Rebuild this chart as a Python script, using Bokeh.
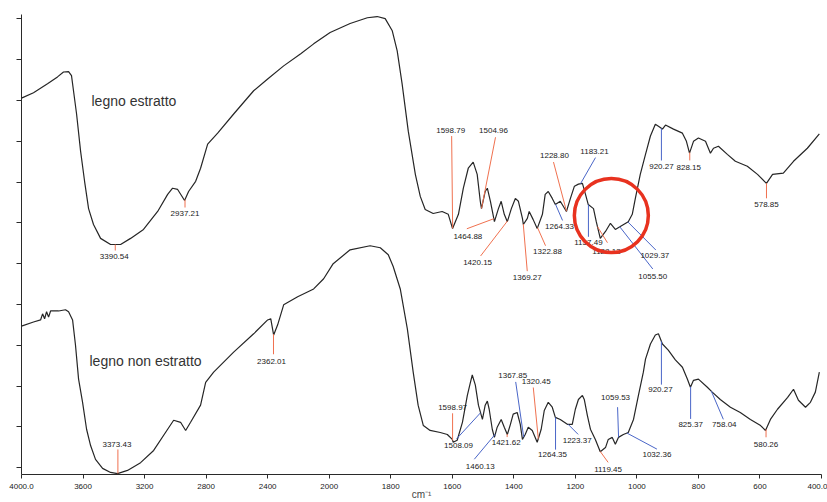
import numpy as np
from bokeh.plotting import figure
from bokeh.models import Range1d, FixedTicker, CustomJSTickFormatter
from bokeh.embed import file_html
from bokeh.resources import INLINE
from bokeh.core.properties import value

# ---- FTIR spectra: wavenumber (cm-1) and transmittance (a.u.) ----
wn_estratto = [4000, 3922, 3831, 3766, 3727, 3694, 3675, 3662, 3642, 3616, 3590, 3564, 3532, 3486,
               3421, 3356, 3291, 3207, 3115, 3050, 3018, 2985, 2940, 2914, 2868, 2836, 2790, 2725,
               2621, 2491, 2400, 2296, 2185, 2101, 1997, 1932, 1876, 1844, 1818, 1795, 1779, 1763,
               1743, 1720, 1704, 1688, 1662, 1633, 1613, 1599, 1580, 1564, 1548, 1532, 1519, 1509,
               1505, 1493, 1486, 1476, 1463, 1450, 1441, 1431, 1421, 1408, 1395, 1385, 1372, 1369,
               1356, 1350, 1337, 1324, 1307, 1298, 1288, 1275, 1265, 1249, 1229, 1216, 1203, 1190,
               1177, 1167, 1158, 1141, 1132, 1119, 1102, 1086, 1070, 1054, 1028, 1015, 1005, 989,
               972, 956, 940, 930, 917, 907, 881, 852, 839, 829, 816, 800, 777, 761, 751, 735, 706,
               680, 641, 608, 579, 559, 524, 491, 446, 407]
t_estratto = [90.6, 91.9, 94.1, 95.8, 97.0, 97.1, 96.1, 92.4, 86.7, 77.6, 70.2, 63.5, 59.6, 56.2,
              54.7, 54.7, 56.2, 58.4, 62.8, 67.0, 68.5, 68.2, 65.5, 67.7, 70.2, 73.4, 79.3, 82.0,
              86.7, 92.4, 95.3, 98.5, 101.5, 103.9, 106.7, 108.9, 110.3, 110.6, 110.1, 107.1, 102.2, 94.1,
              82.5, 71.9, 66.5, 63.3, 62.3, 62.8, 62.1, 58.6, 62.1, 68.5, 73.4, 74.9, 71.9, 65.3,
              63.5, 67.7, 68.5, 65.3, 60.3, 63.5, 65.3, 62.1, 60.3, 63.5, 66.0, 65.3, 61.1, 59.6,
              61.1, 62.8, 60.8, 58.6, 62.1, 67.0, 67.7, 66.0, 64.5, 65.3, 62.8, 66.0, 69.0, 69.5,
              69.7, 67.0, 64.5, 63.5, 60.3, 56.2, 57.9, 59.9, 58.4, 59.1, 60.3, 62.1, 66.0, 71.9,
              76.8, 81.3, 84.2, 83.7, 83.0, 84.0, 83.0, 82.0, 80.0, 77.1, 80.0, 80.8, 80.0, 77.1, 78.3, 78.8, 76.8,
              75.1, 73.9, 71.9, 69.7, 71.9, 72.2, 75.1, 78.3, 81.8]

wn_non_estratto = [4000, 3922, 3876, 3863, 3850, 3837, 3824, 3811, 3759, 3714, 3694, 3668, 3649, 3629,
                   3603, 3577, 3551, 3519, 3473, 3421, 3376, 3311, 3226, 3141, 3050, 3011, 2966, 2933,
                   2901, 2836, 2803, 2751, 2621, 2491, 2400, 2380, 2361, 2335, 2296, 2205, 2101, 2036,
                   1987, 1932, 1867, 1834, 1808, 1792, 1769, 1746, 1727, 1711, 1694, 1672, 1639, 1616,
                   1600, 1597, 1584, 1567, 1551, 1541, 1535, 1525, 1515, 1502, 1493, 1486, 1480, 1470,
                   1463, 1454, 1441, 1431, 1421, 1411, 1402, 1389, 1379, 1372, 1363, 1353, 1340, 1324,
                   1311, 1301, 1288, 1275, 1265, 1249, 1226, 1210, 1200, 1190, 1177, 1171, 1161, 1151,
                   1135, 1119, 1102, 1093, 1080, 1070, 1060, 1044, 1028, 1011, 995, 979, 972, 956, 940,
                   930, 917, 898, 875, 852, 836, 826, 816, 800, 771, 755, 729, 696, 664, 631, 598, 582,
                   566, 543, 510, 491, 475, 452, 436, 420, 407]
t_non_estratto = [34.7, 35.7, 36.2, 37.7, 36.5, 38.2, 36.9, 38.4, 38.4, 38.7, 38.2, 36.2, 30.0, 21.7,
                  16.0, 9.4, 5.4, 2.0, -0.2, -1.2, -1.5, -0.7, 1.2, 4.2, 9.4, 11.6, 11.1, 9.1,
                  11.1, 15.3, 20.9, 23.4, 28.3, 32.8, 36.2, 36.5, 32.5, 35.0, 39.9, 41.9, 43.8, 46.3,
                  50.0, 53.4, 54.4, 53.9, 52.2, 49.3, 43.8, 34.0, 23.4, 15.3, 10.3, 9.1, 8.6, 8.1,
                  6.9, 6.2, 6.7, 11.1, 17.7, 20.9, 22.7, 20.2, 15.3, 11.8, 15.3, 16.3, 14.3, 9.4,
                  7.4, 9.9, 11.8, 9.9, 8.1, 10.6, 13.1, 13.5, 10.6, 6.9, 8.1, 9.9, 9.1, 6.2,
                  9.4, 14.0, 16.0, 14.8, 12.3, 11.8, 10.6, 10.6, 14.3, 16.7, 17.7, 16.7, 12.8, 9.4,
                  6.9, 3.9, 4.9, 6.9, 7.4, 5.7, 7.4, 8.1, 8.6, 11.8, 17.7, 23.4, 26.6, 30.3, 32.5,
                  32.8, 30.3, 28.8, 26.4, 24.6, 21.7, 19.7, 21.4, 21.7, 19.7, 18.5, 16.7, 14.8, 13.5, 11.8, 10.3, 9.1,
                  11.8, 14.3, 17.2, 19.2, 16.5, 14.8, 16.0, 18.5, 23.4]

# Peak labels (wavenumbers in cm-1)
peaks_estratto = ["3390.54", "2937.21", "1598.79", "1504.96", "1464.88", "1420.15", "1369.27",
                  "1322.88", "1264.33", "1228.80", "1183.21", "1157.49", "1128.13", "1055.50",
                  "1029.37", "920.27", "828.15", "578.85"]
peaks_non_estratto = ["3373.43", "2362.01", "1598.97", "1508.09", "1460.13", "1421.62", "1367.85",
                      "1320.45", "1264.35", "1223.37", "1119.45", "1059.53", "1032.36", "920.27",
                      "825.37", "758.04", "580.26"]

# Axis ticks
xtick_wn = [4000, 3600, 3200, 2800, 2400, 2000, 1800, 1600, 1400, 1200, 1000, 800, 600, 400]
xtick_labels = ["4000.0", "3600", "3200", "2800", "2400", "2000", "1800", "1600", "1400",
                "1200", "1000", "800", "600", "400.0"]
ytick_values = [0, 10, 20, 30, 40, 50, 60, 70, 80, 90, 100, 110]

# Sample names and highlighted region
sample_names = ["legno estratto", "legno non estratto"]
highlight_wn, highlight_t = 1083, 61.8

# ---- callout layout: colour, leader end offset (px), text offset (px); y down ----
O, B = "#f0714f", "#4a66c8"
callouts_estratto = [
    (O, 0, 6, -1, 12), (O, 0, 8, 0, 14), (O, -1, -92, -2, -98), (O, 14, -71, 12, -78),
    (O, -27, 10, -26, 18), (O, -27, 35, -30, 42), (O, 4, 47, 4, 53), (O, 8, 18, 10, 24),
    (B, 7, 16, 4, 22), (O, -13, -49, -12, -56), (B, 15, -26, 14, -32), (B, 0, 32, 0, 38),
    (O, 10, 16, 9, 25), (B, 33, 42, 33, 49), (B, 28, 28, 27, 33), (B, 0, 32, 0, 38),
    (O, 0, 8, -1, 15), (O, 0, 15, 0, 21),
]
callouts_non_estratto = [
    (O, 0, -24, -1, -29), (O, 0, 20, -2, 27), (O, 0, -27, 0, -33), (B, -24, 26, -22, 33),
    (B, -21, 25, -15, 32), (O, 0, 3, -1, 8), (B, -8, -55, -11, -61), (O, -5, -51, -2, -57),
    (B, 0, 32, -3, 37), (B, 10, 10, 9, 16), (O, 8, 11, 8, 18), (B, -1, -30, -3, -40),
    (B, 30, 16, 30, 21), (B, 0, 43, -1, 48), (B, 0, 32, 0, 38), (B, 12, 28, 13, 33),
    (O, 0, 8, 0, 15),
]

# ---- figure geometry ----
W, H = 827, 502
LEFT, RIGHT, TOP = 21, 6, 14
FRAME_H = 458
Y0, Y1 = -1.7, 111.1


def axis_pos(wn):
    """Wavenumber -> axis position: 400 cm-1/unit above 2000, 200 cm-1/unit below."""
    wn = np.asarray(wn, dtype=float)
    return np.where(wn >= 2000, (4000.0 - wn) / 400.0, 5.0 + (2000.0 - wn) / 200.0)


p = figure(width=W, height=H, output_backend="svg", toolbar_location=None,
           x_range=Range1d(0, 13), y_range=Range1d(Y0, Y1),
           min_border_left=LEFT, min_border_right=RIGHT, min_border_top=TOP, min_border_bottom=0)
p.outline_line_color = None
p.grid.visible = False
p.background_fill_color = "white"
p.border_fill_color = "white"

frame_w = W - LEFT - RIGHT
px_x = frame_w / 13.0
px_y = FRAME_H / (Y1 - Y0)

# axes
p.xaxis.ticker = FixedTicker(ticks=[float(v) for v in axis_pos(xtick_wn)])
p.xaxis.major_label_overrides = {float(v): lab for v, lab in zip(axis_pos(xtick_wn), xtick_labels)}
p.xaxis.axis_label = "cm\u207b\u00b9"
p.xaxis.axis_label_text_font = "Liberation Sans"
p.xaxis.axis_label_text_font_size = "10px"
p.xaxis.axis_label_text_font_style = "normal"
p.xaxis.axis_label_standoff = -3
p.xaxis.major_label_text_font = "Liberation Sans"
p.xaxis.major_label_text_font_size = "8px"
p.xaxis.major_label_standoff = 5
p.xaxis.major_tick_out = 4
p.xaxis.major_tick_in = 0
p.xaxis.minor_tick_line_color = None
p.yaxis.ticker = FixedTicker(ticks=ytick_values)
p.yaxis.formatter = CustomJSTickFormatter(code="return ''")
p.yaxis.major_label_standoff = 0
p.yaxis.major_tick_out = 5
p.yaxis.major_tick_in = 0
p.yaxis.minor_tick_line_color = None
for ax in (p.xaxis, p.yaxis):
    ax.axis_line_color = "#2a2a2a"
    ax.major_tick_line_color = "#2a2a2a"
    ax.major_label_text_color = "#1a1a1a"

# spectra
series = [(wn_estratto, t_estratto), (wn_non_estratto, t_non_estratto)]
for wn, t in series:
    p.line(axis_pos(wn), t, line_color="#262626", line_width=1.2)

# peak callouts
for (wn, t), peaks, layout in zip(series, [peaks_estratto, peaks_non_estratto],
                                  [callouts_estratto, callouts_non_estratto]):
    wn_arr = np.asarray(wn, float)[::-1]
    t_arr = np.asarray(t, float)[::-1]
    x0s, y0s, x1s, y1s, cols, tx, ty = [], [], [], [], [], [], []
    for lab, (col, ldx, ldy, tdx, tdy) in zip(peaks, layout):
        w = float(lab)
        ax_x = float(axis_pos(w))
        ax_y = float(np.interp(w, wn_arr, t_arr))
        x0s.append(ax_x)
        y0s.append(ax_y)
        x1s.append(ax_x + ldx / px_x)
        y1s.append(ax_y - ldy / px_y)
        cols.append(col)
        tx.append(ax_x + tdx / px_x)
        ty.append(ax_y - tdy / px_y)
    p.segment(x0s, y0s, x1s, y1s, line_color=cols, line_width=1)
    p.text(tx, ty, text=peaks, text_font=value("Liberation Sans"), text_font_size="8px",
           text_align="center", text_baseline="middle", text_color="#1a1a1a")

# sample names
p.text([float(axis_pos(3545)), float(axis_pos(3558))], [89.9, 26.1], text=sample_names,
       text_font=value("Liberation Sans"), text_font_size="14px", text_align="left",
       text_baseline="middle", text_color="#333333")

# highlighted region
p.scatter([float(axis_pos(highlight_wn))], [highlight_t], marker="circle", size=74,
          fill_color=None, line_color="#e8321f", line_width=3.5)

open("out.html", "w").write(file_html(p, INLINE))
